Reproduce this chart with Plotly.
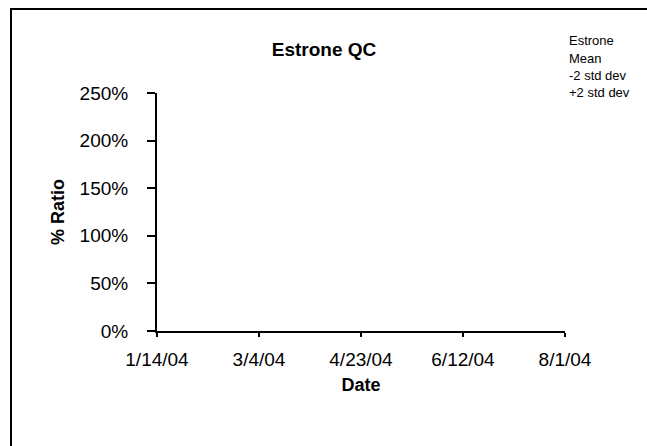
import plotly.graph_objects as go

# Data (the reference chart shows no plotted points)
dates = []
estrone = []
mean_vals = []
minus2_sd = []
plus2_sd = []

series_names = ["Estrone", "Mean", "-2 std dev", "+2 std dev"]
series_vals = [estrone, mean_vals, minus2_sd, plus2_sd]

x_range = ["2004-01-14", "2004-08-01"]
y_range = [0, 2.5]

FONT = "Liberation Sans, Arial, sans-serif"

fig = go.Figure()
for name, vals in zip(series_names, series_vals):
    fig.add_trace(go.Scatter(x=dates, y=vals, name=name, mode="lines",
                             line=dict(color="black"), showlegend=False))

W, H = 647, 446
OFF = 0  # body margin removed below
l, r, t, b = 157 - OFF, W - 565 + OFF, 93 - OFF, H - 331 + OFF
pw, ph = W - l - r, H - t - b

def px_x(x):
    return (x - OFF - l) / pw

def px_y(y):
    return 1 - (y - OFF - t) / ph

fig.update_layout(
    width=W, height=H,
    margin=dict(l=l, r=r, t=t, b=b),
    paper_bgcolor="white", plot_bgcolor="white",
    font=dict(family=FONT, color="black", size=19),
    title=dict(text="<b>Estrone QC</b>", x=(324 - OFF) / W, xanchor="center",
               y=1 - (49 - OFF) / H, yanchor="middle", font=dict(size=19, family=FONT)),
    showlegend=False,
    xaxis=dict(type="date", range=x_range, tick0=x_range[0], dtick=50 * 86400000,
               tickformat="%-m/%-d/%y", showgrid=False, zeroline=False,
               showline=True, linecolor="black", linewidth=2,
               ticks="outside", ticklen=4, tickwidth=2, tickcolor="black",
               tickfont=dict(size=19), ticklabelstandoff=6,
               title=dict(text="<b>Date</b>", font=dict(size=18), standoff=10)),
    yaxis=dict(range=y_range, dtick=0.5, tickformat=".0%", showgrid=False,
               zeroline=False, showline=True, linecolor="black", linewidth=2,
               ticks="outside", ticklen=8, tickwidth=2, tickcolor="black",
               tickfont=dict(size=19), ticklabelstandoff=15,
               title=dict(text="<b>% Ratio</b>", font=dict(size=18), standoff=10)),
)

# Chart-area border (extends beyond the captured window on right and bottom)
fig.add_shape(type="rect", xref="paper", yref="paper",
              x0=px_x(11), x1=px_x(W + 40), y0=px_y(H + 40), y1=px_y(9),
              line=dict(color="black", width=2), fillcolor="rgba(0,0,0,0)",
              layer="below")

# Legend entries (text only, as in the reference)
for i, name in enumerate(series_names):
    fig.add_annotation(text=name, xref="paper", yref="paper",
                       x=px_x(567), y=px_y(41 + 17 * i), xanchor="left",
                       yanchor="middle", showarrow=False,
                       font=dict(size=13, family=FONT))

fig.write_html(
    "out.html",
    config={"displayModeBar": False},
    post_script="document.body.style.margin='0';document.body.style.overflow='hidden';",
)
